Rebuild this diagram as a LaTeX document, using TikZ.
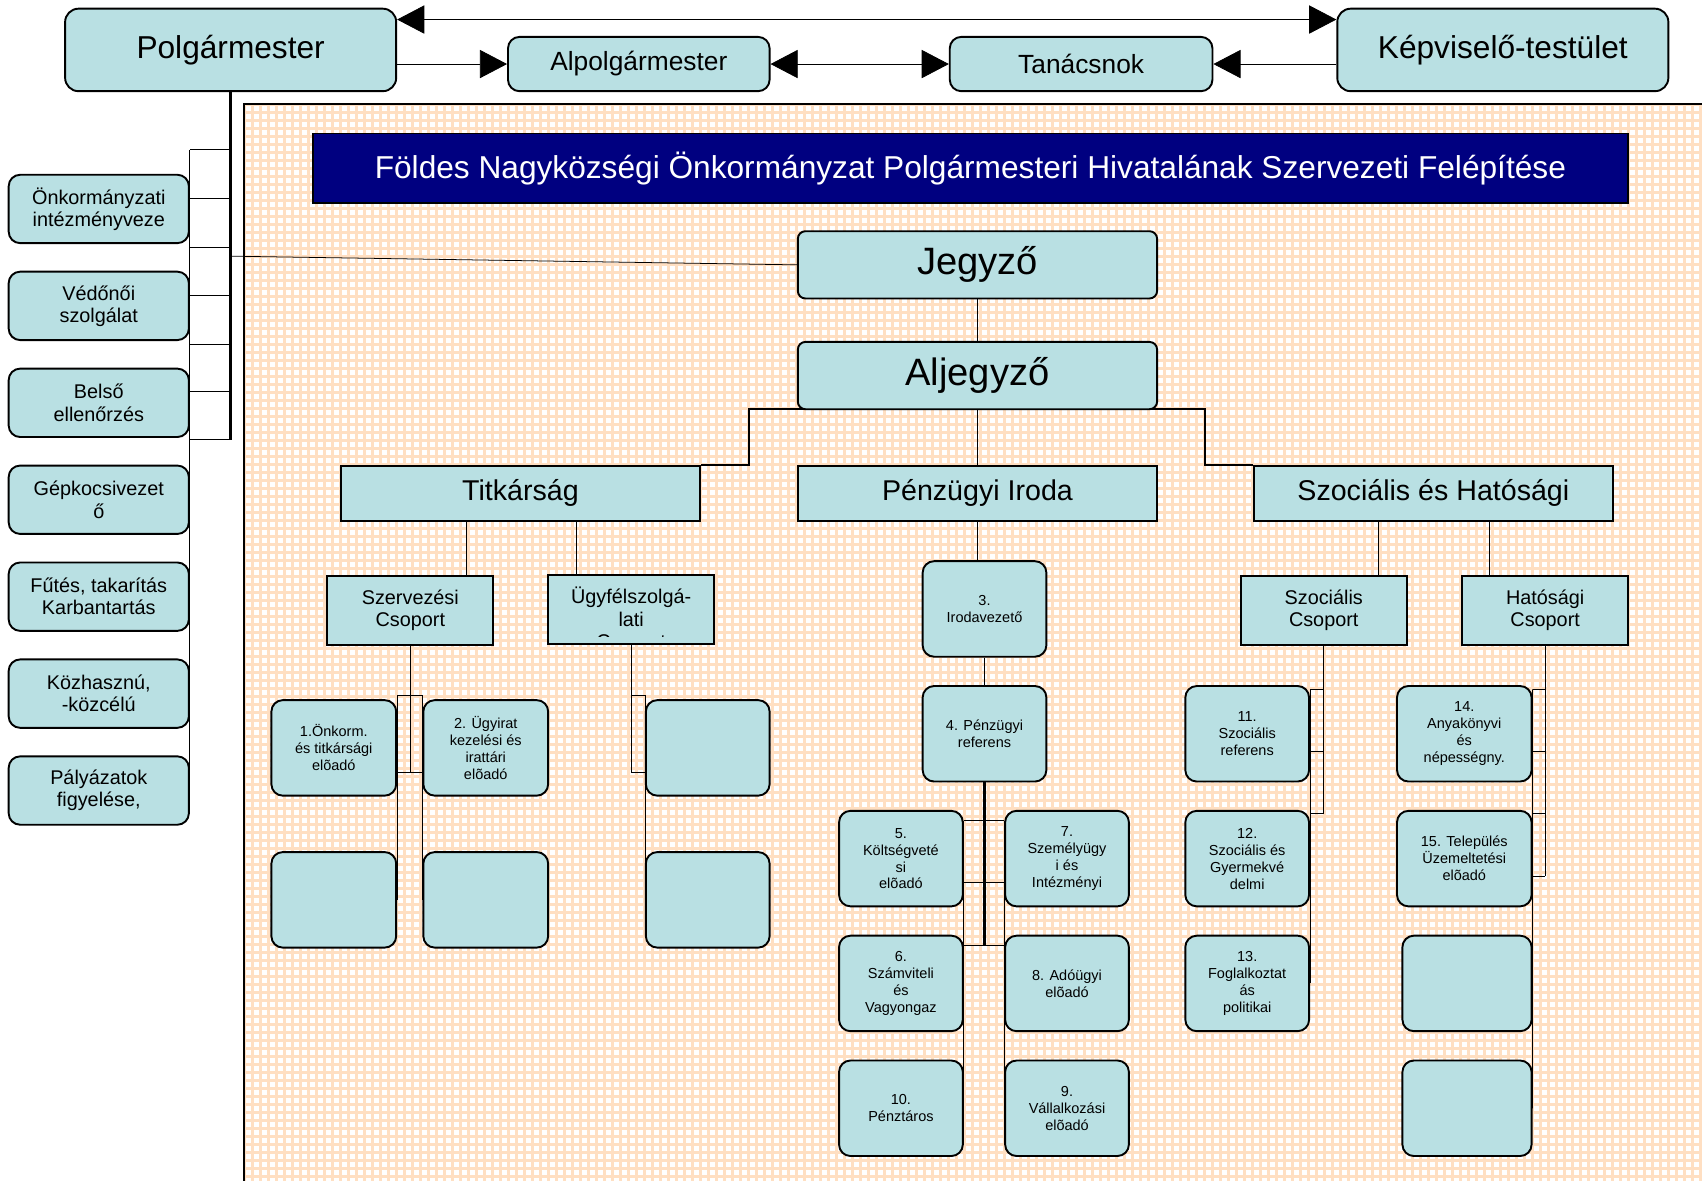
\documentclass[tikz,border=0pt]{standalone}
\usepackage{fontspec}
\setmainfont{Liberation Sans}
\usetikzlibrary{arrows.meta, backgrounds}
\definecolor{boxblue}{RGB}{185,224,227}
\definecolor{peach}{RGB}{255,223,194}
\definecolor{titleblue}{RGB}{0,0,128}

\begin{document}
\begin{tikzpicture}[>={Triangle[length=0.5cm,width=0.52cm]}, x=0.02cm, y=-0.02cm, line width=1pt,
  rbox/.style 2 args={draw, fill=boxblue, rounded corners=6pt, line width=1pt, minimum width=#1*0.02cm, minimum height=#2*0.02cm, inner sep=0pt, align=center},
  sbox/.style 2 args={rbox={#1}{#2}, sharp corners},
  fbig/.style={font=\fontsize{16.6}{19}\selectfont},
  fmid/.style={font=\fontsize{13.8}{16}\selectfont},
  fhead/.style={font=\fontsize{20}{23}\selectfont},
  fdept/.style={font=\fontsize{15}{18}\selectfont},
  fgrp/.style={font=\fontsize{10.4}{11.6}\selectfont},
  fsmall/.style={font=\fontsize{7.6}{8.9}\selectfont},
  gridline/.style={peach, line width=1.7pt}]
\useasboundingbox (0,0) rectangle (1568,1088);

% hatter
\begin{pgfonlayer}{background}
\fill[white] (225,96) rectangle (1568,1088);
\foreach \i in {0,...,182} \draw[gridline] (225+\i*7.37,96) -- (225+\i*7.37,1088);
\foreach \j in {0,...,134} \draw[gridline] (225,96+\j*7.37) -- (1568,96+\j*7.37);
\draw[line width=1pt] (225,1088) -- (225,96) -- (1568,96);
\end{pgfonlayer}

% felso sor
\node[rbox={305}{76}, rounded corners=7pt, fbig] (polg) at (212.5,46) {Polgármester};
\node[rbox={241}{50}, fmid] (alpolg) at (588.5,59) {Alpolgármester};
\node[rbox={242}{50}, fmid] (tanacs) at (996,59) {Tanácsnok};
\node[rbox={305}{76}, rounded corners=7pt, fbig] (kepv) at (1384.5,46) {Képviselő-testület};
\draw[<->] (polg.east |- 0,18) -- (kepv.west |- 0,18);
\draw[->] (polg.east |- alpolg.west) -- (alpolg.west);
\draw[<->] (alpolg) -- (tanacs);
\draw[->] (kepv.west |- tanacs.east) -- (tanacs.east);

% bal oldal
\foreach \t [count=\k] in {{Önkormányzati\\intézményveze}, {Védőnői\\szolgálat}, {Belső\\ellenőrzés},
  {Gépkocsivezet\\ő}, {Fűtés, takarítás\\Karbantartás}, {Közhasznú,\\-közcélú}, {Pályázatok\\figyelése,}}
  \node[rbox={166}{63}, fgrp] (l\k) at (91,{192.5+(\k-1)*89.3}) {\t};

\node[sbox={1212}{64}, fill=titleblue, text=white, fbig] (title) at (894,155)
  {Földes Nagyközségi Önkormányzat Polgármesteri Hivatalának Szervezeti Felépítése};

\node[rbox={331}{62}, rounded corners=4pt, fhead] (jegyzo) at (900.5,244) {Jegyző};
\node[rbox={331}{62}, rounded corners=4pt, fhead] (aljegyzo) at (900.5,346) {Aljegyző};
\node[sbox={331}{51}, fdept] (titk) at (479.5,454.5) {Titkárság};
\node[sbox={331}{51}, fdept] (penz) at (900.5,454.5) {Pénzügyi Iroda};
\node[sbox={331}{51}, fdept] (szh) at (1320.5,454.5) {Szociális és Hatósági};

% csoportok
\node[sbox={153}{63}, fgrp] (szerv) at (378,562.5) {Szervezési\\Csoport};
\node[sbox={153}{63}] (ugyf) at (581.5,561.5) {};
\begin{scope}
\clip (ugyf.north west) rectangle (ugyf.east |- 0,586);
\node[fgrp, align=center] (ugyftxt) at (581.5,571) {Ügyfélszolgá-\\lati\\Csoport};
\end{scope}
\node[sbox={153}{63}, fgrp] (szoc) at (1219.5,562.5) {Szociális\\Csoport};
\node[sbox={153}{63}, fgrp] (hat) at (1423.5,562.5) {Hatósági\\Csoport};

% titkarsag
\node[rbox={115}{88}, fsmall] (o1) at (307.5,689) {1.Önkorm.\\és titkársági\\elõadó};
\node[rbox={115}{88}, fsmall] (o2) at (447.5,689) {2. Ügyirat\\kezelési és\\irattári\\elõadó};
\node[rbox={115}{88}] (o3) at (307.5,829) {};
\node[rbox={115}{88}] (o4) at (447.5,829) {};
\node[rbox={114}{88}] (u1) at (652,689) {};
\node[rbox={114}{88}] (u2) at (652,829) {};

% penzugy
\node[rbox={114}{88}, fsmall] (iroda) at (907,561) {3.\\Irodavezető};
\node[rbox={114}{88}, fsmall] (ref) at (907,676) {4. Pénzügyi\\referens};
\node[rbox={114}{88}, fsmall] (k5) at (830,791) {5.\\Költségveté\\si\\elõadó};
\node[rbox={114}{88}, fsmall] (k7) at (983,791) {7.\\Személyügy\\i és\\Intézményi};
\node[rbox={114}{88}, fsmall] (k6) at (830,906) {6.\\Számviteli\\és\\Vagyongaz};
\node[rbox={114}{88}, fsmall] (k8) at (983,906) {8. Adóügyi\\elõadó};
\node[rbox={114}{88}, fsmall] (k10) at (830,1021) {10.\\Pénztáros};
\node[rbox={114}{88}, fsmall] (k9) at (983,1021) {9.\\Vállalkozási\\elõadó};

% szocialis es hatosagi
\node[rbox={114}{88}, fsmall] (s11) at (1149,676) {11.\\Szociális\\referens};
\node[rbox={114}{88}, fsmall] (s12) at (1149,791) {12.\\Szociális és\\Gyermekvé\\delmi};
\node[rbox={114}{88}, fsmall] (s13) at (1149,906) {13.\\Foglalkoztat\\ás\\politikai};
\node[rbox={124}{88}, fsmall] (h14) at (1349,676) {14.\\Anyakönyvi\\és\\népességny.};
\node[rbox={124}{88}, fsmall] (h15) at (1349,791) {15. Település\\Üzemeltetési\\elõadó};
\node[rbox={119}{88}] (h3) at (1351.5,906) {};
\node[rbox={119}{88}] (h4) at (1351.5,1021) {};

% vonalak
\begin{pgfonlayer}{background}
\draw[line width=1.7pt] (polg.south) -- (polg.south |- 0,405);
\foreach \y in {138,183,228,272,317,361,405} \draw (l1.east |- 0,\y) -- (polg.south |- 0,\y);
\draw (l1.east |- 0,138) -- (l7.east);
\coordinate (jbranch) at (212.5,236);
\draw (jbranch) -- (jegyzo.west);
\draw (jegyzo) -- (aljegyzo);
\draw[line width=1.2pt] (titk.north east) -| (690,377) -- (1110,377) |- (szh.north west);
\draw (aljegyzo) -- (penz);
\draw (titk.south -| 430,0) -- (szerv.north -| 430,0);
\draw (titk.south -| 531,0) -- (ugyf.north -| 531,0);
\draw (szh.south -| 1270,0) -- (szoc.north -| 1270,0);
\draw (szh.south -| 1372,0) -- (hat.north -| 1372,0);
% titkarsag agai
\draw (szerv.south) -- (szerv.south |- 0,712);
\draw (o1.east |- 0,641) rectangle (o2.west |- 0,712);
\draw (o1.east |- 0,712) -- (o3.east);
\draw (o2.west |- 0,712) -- (o4.west);
\draw (ugyf.south) -- (ugyf.south |- 0,712);
\draw (ugyf.south |- 0,641) rectangle (u1.west |- 0,712);
\draw (u1.west |- 0,712) -- (u2.west);
% penzugy agai
\draw (penz.south) -- (penz.south |- iroda.north);
\draw (iroda) -- (ref);
\draw[line width=1.4pt] (ref.south) -- (ref.south |- 0,871);
\foreach \y in {756,813,871} \draw (k5.east |- 0,\y) -- (k7.west |- 0,\y);
\draw (k5.east |- 0,756) -- (k10.east);
\draw (k7.west |- 0,756) -- (k9.west);
% szocialis es hatosagi agai
\draw (szoc.south) -- (szoc.south |- 0,749);
\foreach \y in {635,692,749} \draw (s11.east |- 0,\y) -- (szoc.south |- 0,\y);
\draw (s11.east |- 0,635) -- (s13.east);
\draw (hat.south) -- (hat.south |- 0,807);
\foreach \y in {635,692,749,807} \draw (h14.east |- 0,\y) -- (hat.south |- 0,\y);
\draw (h14.east |- 0,635) -- (h4.east);
\end{pgfonlayer}
\end{tikzpicture}
\end{document}
